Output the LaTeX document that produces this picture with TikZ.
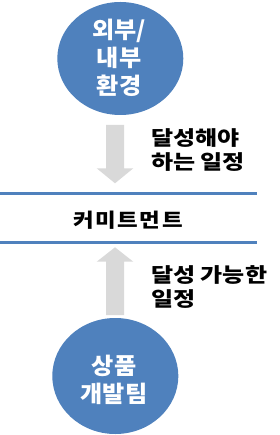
\documentclass[tikz,border=0pt]{standalone}
\usepackage{fontspec}
\newfontfamily\krfont{Noto Sans CJK KR}
\definecolor{oblue}{HTML}{4F81BD}
\definecolor{agray}{HTML}{D9D9D9}
\begin{document}
\begin{tikzpicture}[x=1pt,y=-1pt,
  blobtext/.style={text=white,align=center,inner sep=0pt,
    font={\krfont\bfseries\fontsize{23}{28}\selectfont\addfontfeature{FakeStretch=1.05}}},
  label/.style={text=black,align=left,anchor=north west,inner sep=0pt,
    font={\krfont\bfseries\fontsize{20}{23.5}\selectfont\addfontfeature{FakeStretch=1.2}}},
  midtext/.style={text=black,inner sep=0pt,
    font={\krfont\bfseries\fontsize{19.5}{23}\selectfont\addfontfeature{FakeStretch=1.15,LetterSpace=8}}},
  rule/.style={draw=oblue,line width=3pt},
  blockarrow/.style={fill=agray,draw=none}]
\useasboundingbox (0,0) rectangle (280,435);
% circles
\fill[oblue] (120.3,58.5) ellipse [x radius=63, y radius=56.5];
\fill[oblue] (115.3,376) ellipse [x radius=63, y radius=58];
\node[blobtext] (env) at (119,58) {외부/\\내부\\환경};
\node[blobtext] (team) at (114,380) {상품\\개발팀};
% rules
\coordinate (r1a) at (0,193.3);
\coordinate (r1b) at (256.7,193.3);
\coordinate (r2a) at (0,242.5);
\coordinate (r2b) at (256.7,242.5);
\draw[rule] (r1a) -- (r1b);
\draw[rule] (r2a) -- (r2b);
\node[midtext] (commit) at (128,220) {커미트먼트};
% arrows
\fill[blockarrow] (106,125) -- (124,125) -- (124,168.3) -- (133.3,168.3) -- (115,183.3) -- (96.7,168.3) -- (106,168.3) -- cycle;
\fill[blockarrow] (106,315) -- (124,315) -- (124,261.7) -- (133.3,261.7) -- (115,247.3) -- (96.7,261.7) -- (106,261.7) -- cycle;
% labels
\node[label] (l1) at (151,128.5) {달성해야\\하는 일정};
\node[label] (l2) at (151,265.5) {달성 가능한\\일정};
\end{tikzpicture}
\end{document}
